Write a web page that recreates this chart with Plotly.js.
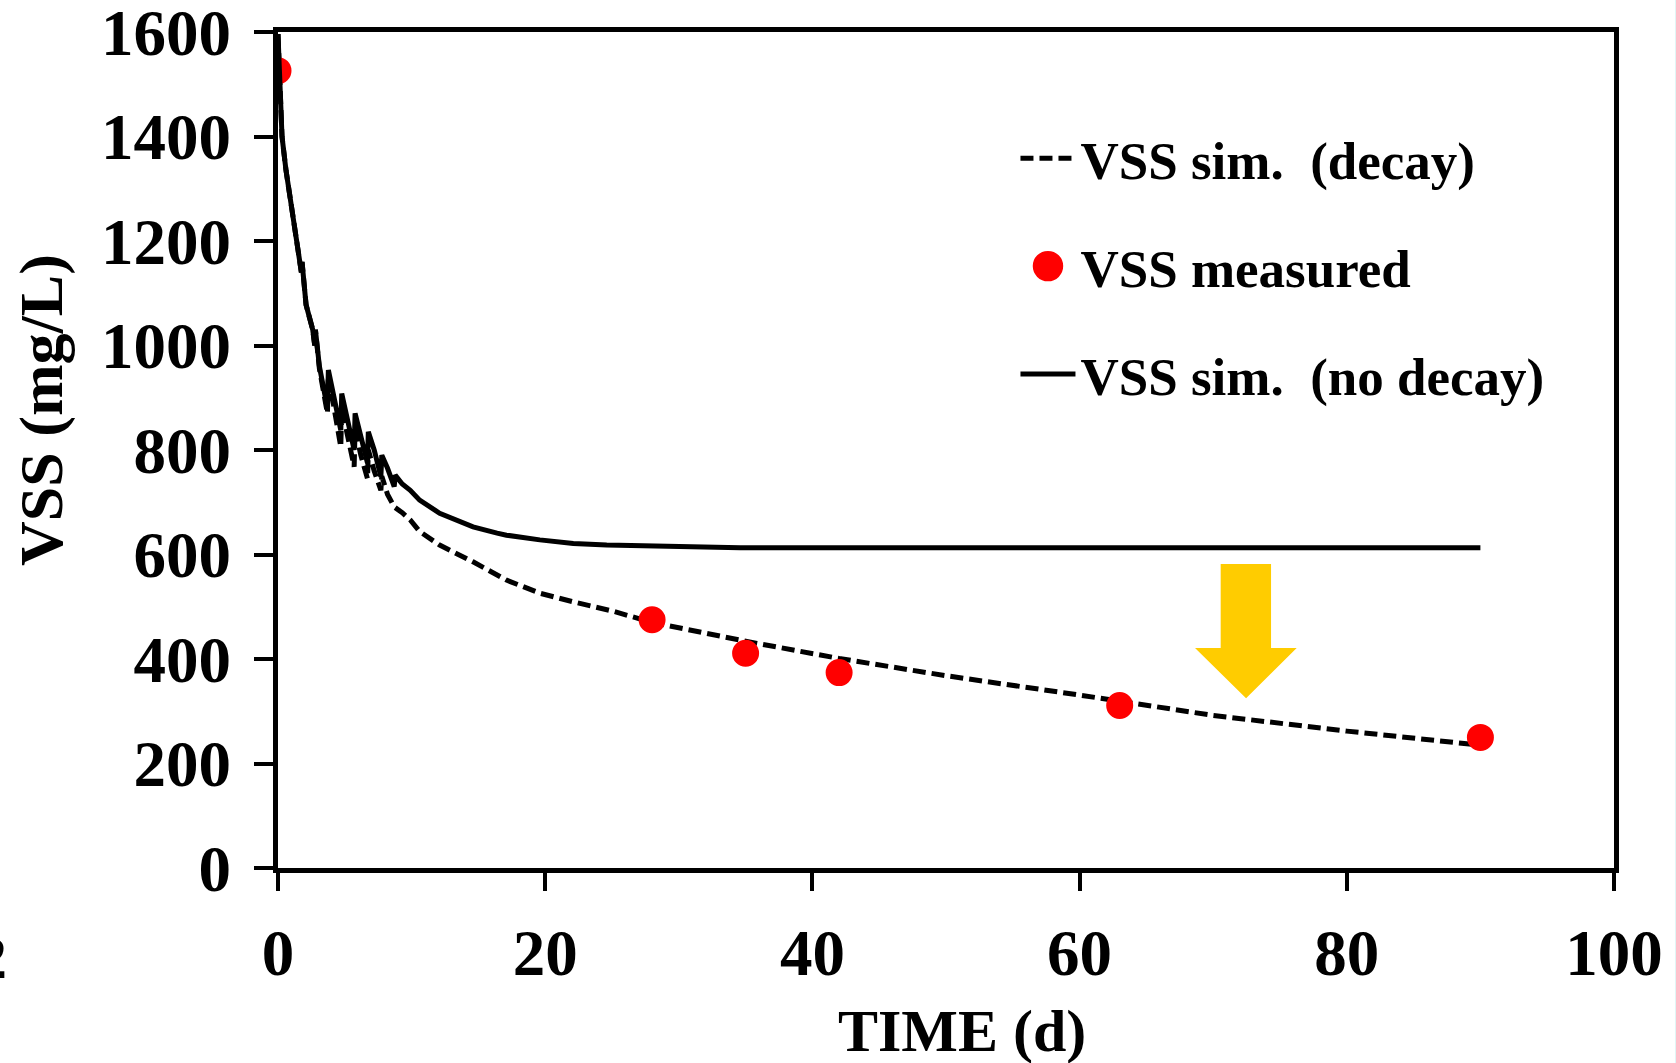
<!DOCTYPE html>
<html>
<head>
<meta charset="utf-8">
<script src="https://cdn.plot.ly/plotly-3.0.1.min.js"></script>
<style>
  html, body { margin: 0; padding: 0; background: #ffffff; }
  #chart { width: 1676px; height: 1063px; }
</style>
</head>
<body>
<div id="chart"></div>
<script>
// ---- data ----
const timeNoDecay = [0, 0.3, 0.6, 1.0, 1.5, 1.75, 1.8, 2.1, 2.6, 2.75, 2.8, 3.1, 3.7, 3.77, 4.2, 4.7, 4.77, 5.2, 5.7, 5.77, 6.2, 6.7, 6.76, 7.2, 7.7, 7.77, 8.2, 8.7, 8.77, 9.3, 9.9, 10.6, 12.1, 13.6, 14.6, 16.4, 17.1, 19.6, 22.1, 24.6, 29.6, 34.6, 45, 60, 75, 90];
const vssNoDecay  = [1596, 1400, 1335, 1272, 1185, 1140, 1160, 1078, 1030, 1000, 1030, 960, 880, 953, 900, 838, 908, 860, 800, 870, 830, 775, 835, 800, 749, 790, 765, 730, 752, 735, 723, 704, 679, 662, 653, 641, 637, 628, 621, 618, 615, 613, 613, 613, 613, 613];

const timeDecay = [0, 0.3, 0.6, 1.0, 1.5, 1.75, 1.8, 2.1, 2.6, 2.75, 2.8, 3.1, 3.7, 3.77, 4.2, 4.7, 4.77, 5.2, 5.7, 5.77, 6.2, 6.7, 6.76, 7.2, 7.7, 7.77, 8.2, 8.7, 9.3, 9.9, 10.6, 12.1, 14.6, 17.1, 19.6, 22, 25, 28, 35, 42, 50, 60, 63, 70, 80, 90];
const vssDecay  = [1596, 1400, 1335, 1272, 1185, 1140, 1160, 1078, 1030, 1000, 1030, 955, 870, 945, 880, 806, 880, 825, 768, 840, 790, 745, 800, 760, 723, 750, 715, 691, 680, 666, 644, 618, 586, 551, 526, 510, 492, 470, 434, 401, 368, 331, 320, 292, 262, 235];

const timeMeasured = [0, 28, 35, 42, 63, 90];
const vssMeasured  = [1526, 475, 411, 374, 311, 250];

const seriesNames = ['VSS sim.  (decay)', 'VSS measured', 'VSS sim.  (no decay)'];
const xTickVals = [0, 20, 40, 60, 80, 100];
const yTickVals = [0, 200, 400, 600, 800, 1000, 1200, 1400, 1600];

// ---- styling ----
const FONT = '"Liberation Serif", "Times New Roman", serif';

const traces = [
  {
    x: timeDecay, y: vssDecay, name: seriesNames[0], type: 'scatter', mode: 'lines',
    legendgroup: 'a',
    line: { color: '#000000', width: 5, dash: '13px,6px' }
  },
  {
    x: timeMeasured, y: vssMeasured, name: seriesNames[1], type: 'scatter', mode: 'markers',
    legendgroup: 'b',
    marker: { color: '#ff0000', size: 22, line: { width: 5, color: '#ff0000' } }
  },
  {
    x: timeNoDecay, y: vssNoDecay, name: seriesNames[2], type: 'scatter', mode: 'lines',
    legendgroup: 'c',
    line: { color: '#000000', width: 5 }
  }
];

const axisCommon = {
  showline: true, linecolor: '#000000', linewidth: 5, mirror: true,
  showgrid: false, zeroline: false,
  ticks: 'outside', tickcolor: '#000000', tickwidth: 4,
  ticklabeloverflow: 'allow',
  tickfont: { family: FONT, size: 65, color: '#000000', weight: 'bold' }
};

const layout = {
  width: 1676, height: 1063,
  paper_bgcolor: '#ffffff', plot_bgcolor: '#ffffff',
  margin: { l: 278, r: 62, t: 32, b: 195 },
  showlegend: true,
  legend: {
    x: 0.552, y: 0.898, xanchor: 'left', yanchor: 'top',
    bgcolor: 'rgba(0,0,0,0)', borderwidth: 0,
    font: { family: FONT, size: 53, color: '#000000', weight: 'bold' },
    tracegroupgap: 36, itemwidth: 55, traceorder: 'grouped'
  },
  xaxis: Object.assign({}, axisCommon, {
    range: [0, 100], tickvals: xTickVals, ticklen: 18, ticklabelstandoff: 6
  }),
  yaxis: Object.assign({}, axisCommon, {
    range: [0, 1600], tickvals: yTickVals, ticklen: 19, ticklabelstandoff: 10
  }),
  annotations: [
    {
      text: 'TIME (d)', xref: 'paper', yref: 'paper', x: 0.512, y: -0.195,
      xanchor: 'center', yanchor: 'middle', showarrow: false,
      font: { family: FONT, size: 60, color: '#000000', weight: 'bold' }
    },
    {
      text: 'VSS (mg/L)', xref: 'paper', yref: 'paper', x: -0.1766, y: 0.548,
      xanchor: 'center', yanchor: 'middle', showarrow: false, textangle: -90,
      font: { family: FONT, size: 62, color: '#000000', weight: 'bold' }
    },
    {
      text: '2', xref: 'paper', yref: 'paper', x: -0.2013, y: -0.107,
      xanchor: 'right', yanchor: 'middle', showarrow: false,
      font: { family: FONT, size: 62, color: '#000000', weight: 'bold' }
    }
  ],
  shapes: [
    {
      type: 'path', xref: 'x', yref: 'y',
      path: 'M 70.56 582 L 74.33 582 L 74.33 421 L 76.25 421 L 72.46 325 L 68.64 421 L 70.56 421 Z',
      fillcolor: '#ffcc00', line: { width: 0 }
    },
    {
      type: 'line', xref: 'paper', yref: 'paper', x0: 1.046, x1: 1.046, y0: -0.25, y1: 1.05,
      line: { color: '#dff6f6', width: 1 }
    }
  ]
};

Plotly.newPlot('chart', traces, layout, { staticPlot: true, displayModeBar: false }).then(function (gd) {
  // enlarge the legend's marker symbol (Plotly caps legend marker size)
  try {
    gd.querySelectorAll('.legend .legendpoints path.scatterpts').forEach(function (p) {
      const t = p.getAttribute('transform') || '';
      p.setAttribute('transform', t + ' scale(1.45)');
    });
  } catch (e) { /* ignore */ }
});
</script>
</body>
</html>
